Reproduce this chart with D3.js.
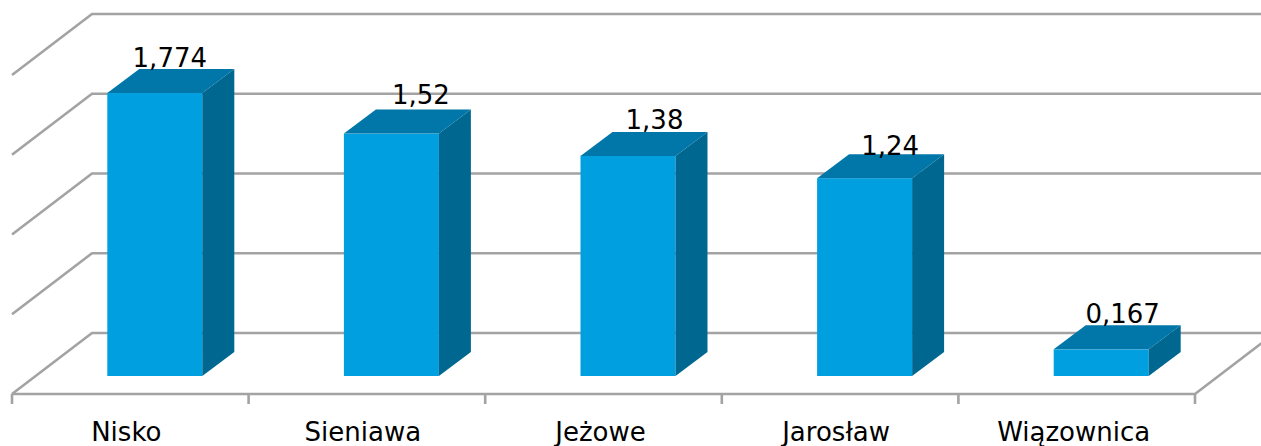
<!DOCTYPE html>
<html><head><meta charset="utf-8">
<style>html,body{margin:0;padding:0;background:#fff}svg{display:block}text{font-family:"DejaVu Sans",sans-serif;fill:#000}</style>
<script src="https://cdnjs.cloudflare.com/ajax/libs/d3/7.8.5/d3.min.js"></script>
</head><body><svg id="c" width="1261" height="446"></svg>
<script>
const categories = ["Nisko","Sieniawa","Jeżowe","Jarosław","Wiązownica"];
const values = [1.774,1.52,1.38,1.24,0.167];
const valueLabels = ["1,774","1,52","1,38","1,24","0,167"];
const gridValues = [0,0.5,1,1.5,2];

const W=1261,H=446;
const svg=d3.select("#c");
const axisL=12,axisR=1195,axisY=394;
const wallDx=80,wallDy=61;
const x=d3.scaleBand().domain(categories).range([axisL,axisR]);
const yWall=d3.scaleLinear().domain([0,2]).range([axisY-wallDy,axisY-wallDy-319]);
const yBar=d3.scaleLinear().domain([0,2]).range([376,376-319]);
const barW=95,barShift=24.5,bDx=32,bDy=24;
const labelNudge=[-9,5.5,2.5,1.5,-2.5], labelGap=[26,30,27,23,26], catNudge=[-4,-4,-3,-4,-3];
const grid="#a3a3a3";

const g=svg.append("g").attr("fill","none").attr("stroke",grid).attr("stroke-width",2.6);
gridValues.forEach(v=>{
  const yb=yWall(v);
  g.append("path").attr("d",d3.line()([[axisL,yb+wallDy],[axisL+wallDx,yb],[W,yb]]));
});
// right side floor edge and front axis
g.append("path").attr("d",d3.line()([[axisL,axisY],[axisR,axisY],[axisR+wallDx,axisY-wallDy]]));
// front axis ticks
d3.range(categories.length+1).forEach(i=>{
  const tx=axisL+i*x.bandwidth();
  g.append("line").attr("x1",tx).attr("x2",tx).attr("y1",axisY).attr("y2",axisY+10);
});

categories.forEach((c,i)=>{
  const x0=x(c)+x.bandwidth()/2-barW/2+barShift, x1=x0+barW;
  const yt=yBar(values[i]),yb=yBar(0);
  const b=svg.append("g");
  b.append("rect").attr("x",x0).attr("y",yt).attr("width",barW).attr("height",yb-yt).attr("fill","#009fe0");
  b.append("path").attr("d",d3.line()([[x0,yt],[x0+bDx,yt-bDy],[x1+bDx,yt-bDy],[x1,yt]])+"Z").attr("fill","#0077a8");
  b.append("path").attr("d",d3.line()([[x1,yt],[x1+bDx,yt-bDy],[x1+bDx,yb-bDy],[x1,yb]])+"Z").attr("fill","#006890");
  svg.append("text").attr("x",x0+barW/2+bDx/2+8+labelNudge[i]).attr("y",yt-labelGap[i])
    .attr("text-anchor","middle").attr("font-size",26).text(valueLabels[i]);
  svg.append("text").attr("x",x(c)+x.bandwidth()/2+catNudge[i]).attr("y",441)
    .attr("text-anchor","middle").attr("font-size",26).text(c);
});
</script></body></html>
